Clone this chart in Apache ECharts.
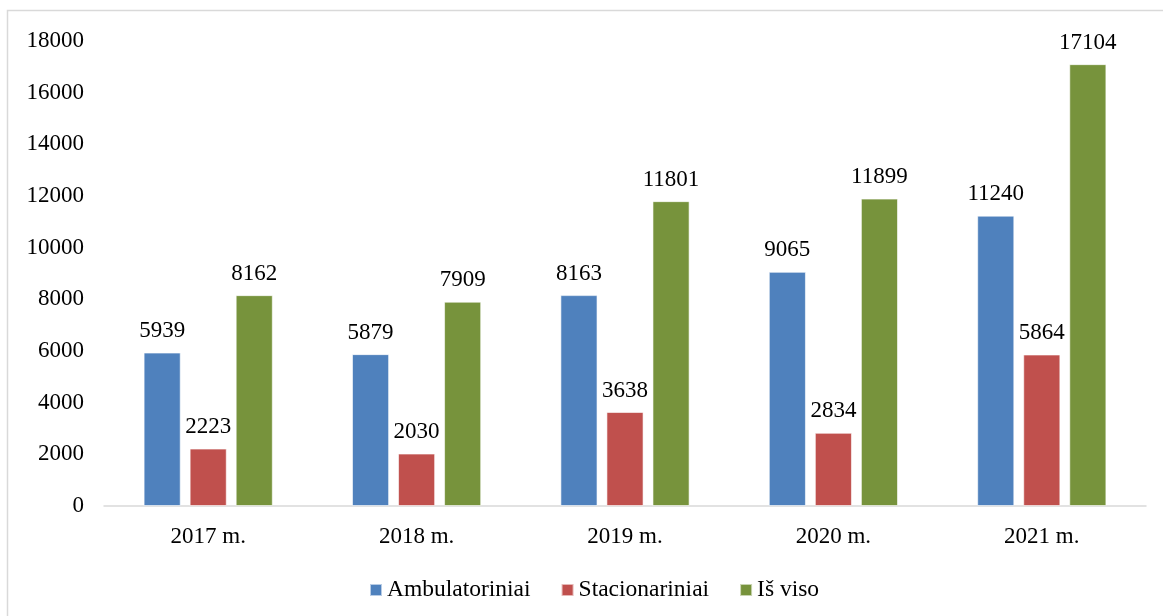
<!DOCTYPE html>
<html>
<head>
<meta charset="utf-8">
<script src="https://cdn.jsdelivr.net/npm/echarts@6/dist/echarts.min.js"></script>
<style>
  html, body { margin: 0; padding: 0; background: #fff; }
  #chart { width: 1163px; height: 616px; }
</style>
</head>
<body>
<div id="chart"></div>
<script>
var years = ['2017 m.', '2018 m.', '2019 m.', '2020 m.', '2021 m.'];
var ambulatoriniai = [5939, 5879, 8163, 9065, 11240];
var stacionariniai = [2223, 2030, 3638, 2834, 5864];
var isViso = [8162, 7909, 11801, 11899, 17104];

var font = 'Liberation Serif, Times New Roman, serif';
var fs = 23;
var chart = echarts.init(document.getElementById('chart'));

function bar(name, data, color) {
  return {
    name: name,
    type: 'bar',
    data: data,
    barGap: '24%',
    barCategoryGap: '38%',
    itemStyle: { color: color, borderColor: 'rgba(255,255,255,0.6)', borderWidth: 1 },
    label: {
      show: true,
      position: 'top',
      distance: 10,
      color: '#000',
      fontFamily: font,
      fontSize: fs
    }
  };
}

chart.setOption({
  animation: false,
  graphic: [{
    type: 'rect',
    shape: { x: 7.5, y: 10.5, width: 1300, height: 800 },
    style: { fill: 'none', stroke: '#d9d9d9', lineWidth: 1.5 },
    silent: true
  }],
  grid: { left: 104, right: 17, top: 41, bottom: 110 },
  legend: {
    top: 573,
    left: 364,
    icon: 'rect',
    itemWidth: 12,
    itemHeight: 12,
    itemGap: 30,
    textStyle: { fontFamily: font, fontSize: 23.5, color: '#000' },
    data: ['Ambulatoriniai', 'Stacionariniai', 'Iš viso']
  },
  xAxis: {
    type: 'category',
    data: years,
    axisLine: { lineStyle: { color: '#d9d9d9', width: 1.5 } },
    axisTick: { show: false },
    axisLabel: { color: '#000', fontFamily: font, fontSize: fs, margin: 19 }
  },
  yAxis: {
    type: 'value',
    min: 0,
    max: 18000,
    interval: 2000,
    axisLine: { show: false },
    axisTick: { show: false },
    splitLine: { show: false },
    axisLabel: {
      color: '#000', fontFamily: font, fontSize: fs, margin: 20,
      formatter: function (v) { return String(v); }
    }
  },
  series: [
    bar('Ambulatoriniai', ambulatoriniai, '#4f81bd'),
    bar('Stacionariniai', stacionariniai, '#c0504d'),
    bar('Iš viso', isViso, '#77933c')
  ]
});
</script>
</body>
</html>
